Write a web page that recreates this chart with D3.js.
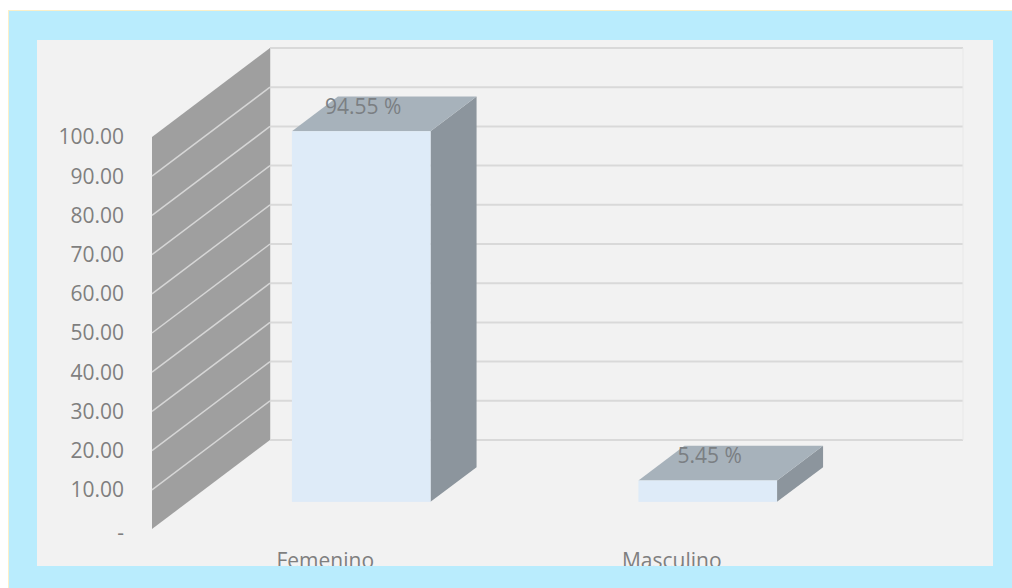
<!DOCTYPE html>
<html>
<head>
  <meta charset="utf-8">
  <script src="https://cdnjs.cloudflare.com/ajax/libs/d3/7.8.5/d3.min.js"></script>
  <style>body { margin: 0; background: #fff } svg { display: block }</style>
</head>
<body>
  <div id="chart"></div>

  <script>
    const categories = ['Femenino', 'Masculino'];
    const values = [94.55, 5.45];
    const valueLabels = ['94.55 %', '5.45 %'];
    const tickValues = [0, 10, 20, 30, 40, 50, 60, 70, 80, 90, 100];
    const tickLabels = ['-', '10.00', '20.00', '30.00', '40.00', '50.00', '60.00', '70.00', '80.00', '90.00', '100.00'];

    const width = 1012, height = 588;
    const FONT = '"Open Sans", "Liberation Sans", sans-serif';

    // front floor line, plus oblique depth vector
    const FLOOR = 529, LEFT = 152, RIGHT = 845;
    const DX = 118, DY = -89;
    const BAR_FRONT = 0.305, BAR_BACK = 0.695;

    const svg = d3.select('#chart').append('svg')
      .attr('width', width)
      .attr('height', height);

    svg.append('rect')
      .attr('x', 8.5).attr('y', 10.5)
      .attr('width', width).attr('height', height)
      .attr('fill', '#b9ecfd')
      .attr('stroke', '#fbefc8');

    svg.append('clipPath').attr('id', 'panel')
      .append('rect').attr('x', 37).attr('y', 40).attr('width', 956).attr('height', 526);

    svg.append('rect')
      .attr('x', 37).attr('y', 40).attr('width', 956).attr('height', 526)
      .attr('fill', '#f2f2f2');

    const g = svg.append('g').attr('clip-path', 'url(#panel)');

    const x = d3.scaleBand().domain(categories).range([LEFT, RIGHT]).paddingInner(0).paddingOuter(0);
    const h = d3.scaleLinear().domain([0, 100]).range([0, 392]);
    const y = v => FLOOR - h(v);

    // back wall gridlines
    g.append('g').selectAll('line')
      .data(tickValues)
      .join('line')
      .attr('x1', LEFT + DX).attr('x2', RIGHT + DX)
      .attr('y1', d => y(d) + DY).attr('y2', d => y(d) + DY)
      .attr('stroke', '#d9d9d9').attr('stroke-width', 2);

    g.append('line')
      .attr('x1', LEFT + DX).attr('x2', LEFT + DX)
      .attr('y1', y(100) + DY).attr('y2', y(0) + DY)
      .attr('stroke', '#d9d9d9').attr('stroke-width', 1.5);

    g.append('line')
      .attr('x1', RIGHT + DX).attr('x2', RIGHT + DX)
      .attr('y1', y(100) + DY).attr('y2', y(0) + DY)
      .attr('stroke', '#e8e8e8').attr('stroke-width', 1);

    // side wall
    g.append('path')
      .attr('d', `M${LEFT},${y(0)}L${LEFT},${y(100)}L${LEFT + DX},${y(100) + DY}L${LEFT + DX},${y(0) + DY}Z`)
      .attr('fill', '#9f9f9f');

    g.append('g').selectAll('line')
      .data(tickValues.slice(1, -1))
      .join('line')
      .attr('x1', LEFT).attr('x2', LEFT + DX)
      .attr('y1', d => y(d)).attr('y2', d => y(d) + DY)
      .attr('stroke', '#d6d6d6').attr('stroke-width', 1.5);

    // bars
    const bw = x.bandwidth() * 0.4;
    const bars = g.append('g').selectAll('g')
      .data(categories.map((c, i) => ({ c, v: values[i], label: valueLabels[i] })))
      .join('g');

    const fx = d => x(d.c) + x.bandwidth() / 2 - bw / 2 + BAR_FRONT * DX;
    const fy = BAR_FRONT * DY;
    const ox = (BAR_BACK - BAR_FRONT) * DX, oy = (BAR_BACK - BAR_FRONT) * DY;

    bars.append('path')
      .attr('d', d => {
        const x0 = fx(d) + bw, t = y(d.v) + fy, b = y(0) + fy;
        return `M${x0},${b}L${x0},${t}L${x0 + ox},${t + oy}L${x0 + ox},${b + oy}Z`;
      })
      .attr('fill', '#8c959d');

    bars.append('path')
      .attr('d', d => {
        const x0 = fx(d), t = y(d.v) + fy;
        return `M${x0},${t}L${x0 + bw},${t}L${x0 + bw + ox},${t + oy}L${x0 + ox},${t + oy}Z`;
      })
      .attr('fill', '#a7b2bb');

    bars.append('rect')
      .attr('x', fx)
      .attr('y', d => y(d.v) + fy)
      .attr('width', bw)
      .attr('height', d => h(d.v))
      .attr('fill', '#deebf8');

    bars.append('text')
      .attr('x', d => fx(d) + bw / 2 + 2)
      .attr('y', d => y(d.v) + fy - 17)
      .attr('text-anchor', 'middle')
      .attr('font-family', FONT).attr('font-size', 21)
      .attr('fill', '#7b7f83')
      .text(d => d.label);

    // value axis labels
    g.append('g').selectAll('text')
      .data(tickValues)
      .join('text')
      .attr('x', 124)
      .attr('y', (d, i) => y(d) + (i === 0 ? 4 : 0))
      .attr('dy', '0.35em')
      .attr('text-anchor', 'end')
      .attr('font-family', FONT).attr('font-size', 21)
      .attr('fill', '#7f7f7f')
      .text((d, i) => tickLabels[i]);

    // category labels
    g.append('g').selectAll('text')
      .data(categories)
      .join('text')
      .attr('x', d => x(d) + x.bandwidth() / 2)
      .attr('y', 568)
      .attr('text-anchor', 'middle')
      .attr('font-family', FONT).attr('font-size', 21)
      .attr('fill', '#7f7f7f')
      .text(d => d);
  </script>
</body>
</html>
